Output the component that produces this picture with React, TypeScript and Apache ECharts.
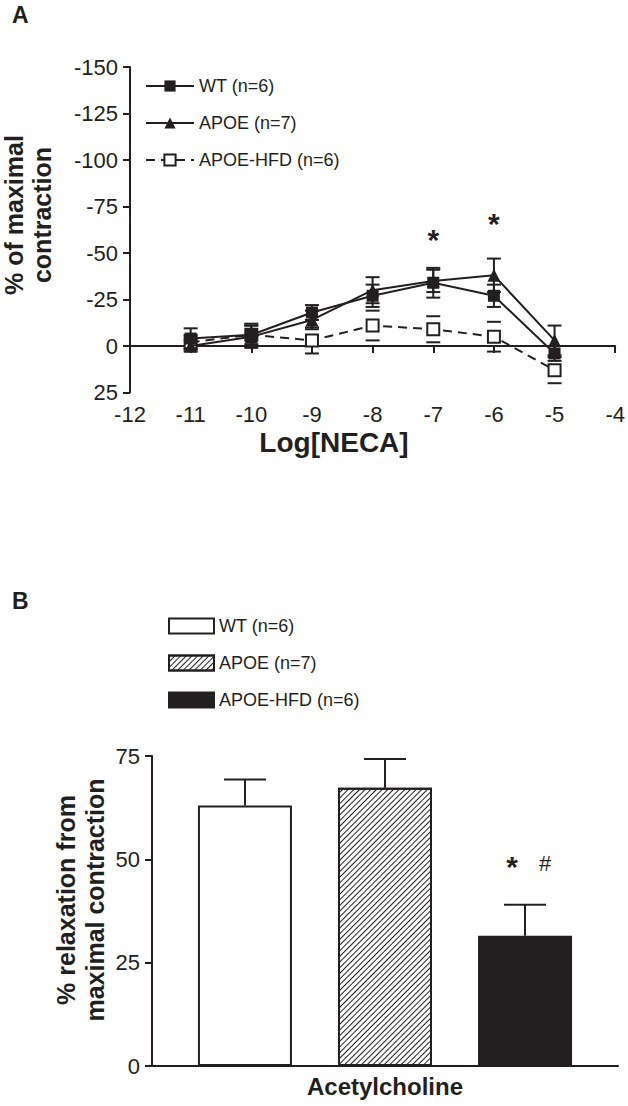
import React, { useEffect, useRef } from "react";
import * as echarts from "echarts";

// ---------- Panel A data ----------
const LOG_NECA = [-11, -10, -9, -8, -7, -6, -5];
const WT_MEAN = [-4, -6, -18, -27, -34, -27, 4];
const WT_SEM = [5.5, 5, 4, 6, 8, 6, 4];
const APOE_MEAN = [0, -5, -14, -30, -35, -38, -3];
const APOE_SEM = [3, 6, 5, 7, 6, 9, 8];
const HFD_MEAN = [-2, -6, -3, -11, -9, -5, 13];
const HFD_SEM = [4, 6, 7, 8, 7, 8, 7];
const A_NAMES = ["WT (n=6)", "APOE (n=7)", "APOE-HFD (n=6)"];
const A_SIG_X = [-7, -6]; // asterisks
const A_SIG_Y = [-49, -58];

// ---------- Panel B data ----------
const B_CATEGORY = ["Acetylcholine"];
const B_NAMES = ["WT (n=6)", "APOE (n=7)", "APOE-HFD (n=6)"];
const B_MEAN = [63, 67.3, 31.5];
const B_SEM = [6.3, 7, 7.5];

const INK = "#231f20";
const FONT = "'Liberation Sans', Arial, Helvetica, sans-serif";

function errorSeries(xs: number[], means: number[], sems: number[], stem: boolean) {
  return {
    type: "custom",
    z: 1,
    silent: true,
    data: xs.map((x, i) => [x, means[i] - sems[i], means[i] + sems[i]]),
    encode: { x: 0, y: [1, 2] },
    renderItem: (params: any, api: any) => {
      const x = api.value(0);
      const lo = api.coord([x, api.value(1)]);
      const hi = api.coord([x, api.value(2)]);
      const w = 7;
      const st = { stroke: INK, lineWidth: 2 };
      const children: any[] = [
        { type: "line", shape: { x1: lo[0] - w, y1: lo[1], x2: lo[0] + w, y2: lo[1] }, style: st },
        { type: "line", shape: { x1: hi[0] - w, y1: hi[1], x2: hi[0] + w, y2: hi[1] }, style: st },
      ];
      if (stem) {
        children.push({ type: "line", shape: { x1: lo[0], y1: lo[1], x2: hi[0], y2: hi[1] }, style: st });
      }
      return { type: "group", children };
    },
  };
}

function optionA(): any {
  const pts = (m: number[]) => LOG_NECA.map((x, i) => [x, m[i]]);
  return {
    animation: false,
    grid: { left: 130, top: 67, width: 488, height: 325.5 },
    legend: {
      left: 145,
      top: 77,
      padding: 0,
      orient: "vertical",
      itemWidth: 48,
      itemHeight: 14,
      itemGap: 19,
      data: A_NAMES,
      textStyle: { fontFamily: FONT, fontSize: 18, color: INK },
      selectedMode: false,
    },
    xAxis: {
      type: "value",
      min: -12,
      max: -4,
      interval: 1,
      axisLine: { lineStyle: { color: INK, width: 2 } },
      axisTick: { lineStyle: { color: INK, width: 2 }, length: 7 },
      axisLabel: { fontFamily: FONT, fontSize: 22, color: INK, margin: 11 },
      splitLine: { show: false },
    },
    yAxis: {
      type: "value",
      inverse: true,
      min: -150,
      max: 25,
      interval: 25,
      axisLine: { show: true, lineStyle: { color: INK, width: 2 } },
      axisTick: { show: true, lineStyle: { color: INK, width: 2 }, length: 7 },
      axisLabel: { fontFamily: FONT, fontSize: 22, color: INK, margin: 12 },
      splitLine: { show: false },
    },
    series: [
      errorSeries(LOG_NECA, WT_MEAN, WT_SEM, true),
      errorSeries(LOG_NECA, APOE_MEAN, APOE_SEM, true),
      errorSeries(LOG_NECA, HFD_MEAN, HFD_SEM, false),
      {
        name: A_NAMES[0],
        type: "line",
        z: 3,
        data: pts(WT_MEAN),
        symbol: "rect",
        symbolSize: 12,
        itemStyle: { color: INK },
        lineStyle: { color: INK, width: 2 },
      },
      {
        name: A_NAMES[1],
        type: "line",
        z: 3,
        data: pts(APOE_MEAN),
        symbol: "triangle",
        symbolSize: 13,
        itemStyle: { color: INK },
        lineStyle: { color: INK, width: 2 },
      },
      {
        name: A_NAMES[2],
        type: "line",
        z: 2,
        data: pts(HFD_MEAN),
        symbol: "rect",
        symbolSize: 12,
        itemStyle: { color: "#fff", borderColor: INK, borderWidth: 2 },
        lineStyle: { color: INK, width: 2, type: [9, 6] },
      },
      {
        type: "scatter",
        z: 4,
        silent: true,
        symbolSize: 0,
        itemStyle: { color: INK, opacity: 1 },
        data: A_SIG_X.map((x, i) => [x, A_SIG_Y[i]]),
        label: {
          show: true,
          formatter: "*",
          position: "top",
          distance: 0,
          fontFamily: FONT,
          fontSize: 30,
          fontWeight: "bold",
          color: INK,
        },
      },
    ],
    graphic: [
      { type: "text", left: 12, top: 3, style: { text: "A", font: `bold 23px ${FONT}`, fill: INK } },
      {
        type: "text",
        x: 14,
        y: 215,
        rotation: Math.PI / 2,
        style: { text: "% of maximal", font: `bold 25px ${FONT}`, fill: INK, align: "center", verticalAlign: "middle" },
      },
      {
        type: "text",
        x: 42,
        y: 215,
        rotation: Math.PI / 2,
        style: { text: "contraction", font: `bold 25px ${FONT}`, fill: INK, align: "center", verticalAlign: "middle" },
      },
      {
        type: "text",
        x: 334,
        y: 442,
        style: { text: "Log[NECA]", font: `bold 28px ${FONT}`, fill: INK, align: "center", verticalAlign: "middle" },
      },
    ],
  };
}

const BAR_W = 94;
const BAR_GAP = 46;

function optionB(): any {
  const fills = [
    { color: "#fff", borderColor: INK, borderWidth: 2 },
    {
      color: "#fff",
      borderColor: INK,
      borderWidth: 2,
      decal: {
        symbol: "rect",
        symbolSize: 1,
        color: INK,
        backgroundColor: "#fff",
        dashArrayX: [1, 0],
        dashArrayY: [1, 2.6],
        rotation: -Math.PI / 4,
      },
    },
    { color: INK, borderColor: INK, borderWidth: 2 },
  ];
  const n = B_NAMES.length;
  return {
    animation: false,
    grid: { left: 152, top: 196, width: 466, height: 310 },
    legend: {
      left: 168,
      top: 57,
      padding: 0,
      orient: "vertical",
      itemWidth: 45,
      itemHeight: 15,
      itemGap: 19,
      icon: "rect",
      data: B_NAMES,
      textStyle: { fontFamily: FONT, fontSize: 18, color: INK },
      selectedMode: false,
    },
    xAxis: {
      type: "category",
      data: B_CATEGORY,
      axisLine: { lineStyle: { color: INK, width: 2 } },
      axisTick: { show: false },
      axisLabel: { fontFamily: FONT, fontSize: 24, fontWeight: "bold", color: INK, margin: 8 },
    },
    yAxis: {
      type: "value",
      min: 0,
      max: 75,
      interval: 25,
      axisLine: { show: true, lineStyle: { color: INK, width: 2 } },
      axisTick: { show: true, lineStyle: { color: INK, width: 2 }, length: 7 },
      axisLabel: { fontFamily: FONT, fontSize: 22, color: INK, margin: 12 },
      splitLine: { show: false },
    },
    series: [
      ...B_NAMES.map((name, i) => ({
        name,
        type: "bar",
        barWidth: BAR_W,
        barGap: `${Math.round((BAR_GAP / BAR_W) * 100)}%`,
        data: [B_MEAN[i]],
        itemStyle: fills[i],
      })),
      {
        type: "custom",
        z: 1,
        silent: true,
        data: B_MEAN.map((m, i) => [0, m, m + B_SEM[i], i]),
        encode: { x: 0, y: [1, 2] },
        renderItem: (params: any, api: any) => {
          const idx = api.value(3);
          const off = (idx - (n - 1) / 2) * (BAR_W + BAR_GAP);
          const base = api.coord([0, api.value(1)]);
          const top = api.coord([0, api.value(2)]);
          const x = base[0] + off;
          const st = { stroke: INK, lineWidth: 2 };
          return {
            type: "group",
            children: [
              { type: "line", shape: { x1: x, y1: base[1], x2: x, y2: top[1] }, style: st },
              { type: "line", shape: { x1: x - 21, y1: top[1], x2: x + 21, y2: top[1] }, style: st },
            ],
          };
        },
      },
    ],
    graphic: [
      { type: "text", left: 12, top: 29, style: { text: "B", font: `bold 23px ${FONT}`, fill: INK } },
      {
        type: "text",
        x: 66,
        y: 340,
        rotation: Math.PI / 2,
        style: { text: "% relaxation from", font: `bold 25px ${FONT}`, fill: INK, align: "center", verticalAlign: "middle" },
      },
      {
        type: "text",
        x: 95,
        y: 340,
        rotation: Math.PI / 2,
        style: { text: "maximal contraction", font: `bold 25px ${FONT}`, fill: INK, align: "center", verticalAlign: "middle" },
      },
      {
        type: "text",
        x: 512,
        y: 306,
        style: { text: "*", font: `bold 30px ${FONT}`, fill: INK, align: "center", verticalAlign: "middle" },
      },
      {
        type: "text",
        x: 545,
        y: 303,
        style: { text: "#", font: `22px ${FONT}`, fill: INK, align: "center", verticalAlign: "middle" },
      },
    ],
  };
}

export default function App() {
  const refA = useRef<HTMLDivElement>(null);
  const refB = useRef<HTMLDivElement>(null);
  useEffect(() => {
    const a = echarts.init(refA.current!, undefined, { renderer: "svg" });
    const b = echarts.init(refB.current!, undefined, { renderer: "svg" });
    a.setOption(optionA());
    b.setOption(optionB());
    return () => {
      a.dispose();
      b.dispose();
    };
  }, []);
  return (
    <div style={{ position: "absolute", left: 0, top: 0, width: 628, height: 1106, background: "#fff" }}>
      <div ref={refA} style={{ position: "absolute", left: 0, top: 0, width: 628, height: 560 }} />
      <div ref={refB} style={{ position: "absolute", left: 0, top: 560, width: 628, height: 546 }} />
    </div>
  );
}
